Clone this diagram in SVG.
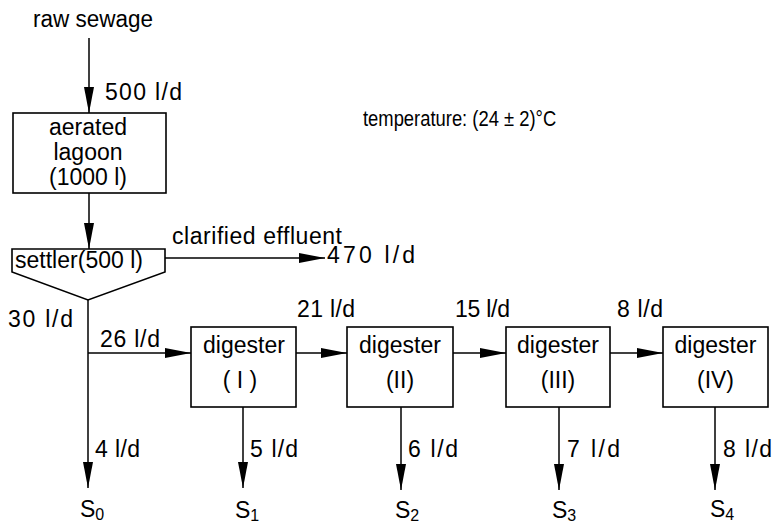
<svg xmlns="http://www.w3.org/2000/svg" width="774" height="524" viewBox="0 0 774 524">
<style>
text{font-family:"Liberation Sans","DejaVu Sans",sans-serif;font-size:23px;fill:#000}
.c{text-anchor:middle}
.t{font-size:22px}
.sub{font-size:16px}
.box{fill:none;stroke:#000;stroke-width:1.6}
.ln{fill:none;stroke:#000;stroke-width:1.5}
</style>
<defs>
<marker id="ah" markerUnits="userSpaceOnUse" markerWidth="28" markerHeight="12" refX="26" refY="5" orient="auto">
<path d="M0,0 L26,5 L0,10 Z" fill="#000"/>
</marker>
</defs>
<rect width="774" height="524" fill="#fff"/>
<g id="connectors">
<line class="ln" x1="89" y1="38" x2="89" y2="113" marker-end="url(#ah)"/>
<line class="ln" x1="89" y1="193" x2="89" y2="249" marker-end="url(#ah)"/>
<line class="ln" x1="165" y1="258" x2="325" y2="258" marker-end="url(#ah)"/>
<line class="ln" x1="88" y1="300" x2="88" y2="488" marker-end="url(#ah)"/>
<line class="ln" x1="88" y1="353" x2="191" y2="353" marker-end="url(#ah)"/>
<line class="ln" x1="296" y1="353" x2="347" y2="353" marker-end="url(#ah)"/>
<line class="ln" x1="453" y1="353" x2="506" y2="353" marker-end="url(#ah)"/>
<line class="ln" x1="610" y1="353" x2="663" y2="353" marker-end="url(#ah)"/>
<line class="ln" x1="243" y1="407" x2="243" y2="488" marker-end="url(#ah)"/>
<line class="ln" x1="401" y1="407" x2="401" y2="490" marker-end="url(#ah)"/>
<line class="ln" x1="559" y1="407" x2="559" y2="490" marker-end="url(#ah)"/>
<line class="ln" x1="715" y1="407" x2="715" y2="490" marker-end="url(#ah)"/>
</g>
<g id="labels">
<text x="33" y="27" textLength="120" lengthAdjust="spacingAndGlyphs">raw sewage</text>
<text x="105" y="100" textLength="77">500 l/d</text>
<text class="t" transform="translate(363,126) scale(0.836,1)">temperature: (24 ± 2)°C</text>
<text x="172" y="244" textLength="170">clarified effluent</text>
<text x="327" y="263" textLength="88">470 l/d</text>
<text x="8" y="327" textLength="65">30 l/d</text>
<text x="100" y="347" textLength="60">26 l/d</text>
<text x="297" y="317" textLength="58">21 l/d</text>
<text x="455" y="317" textLength="55">15 l/d</text>
<text x="617" y="317" textLength="46">8 l/d</text>
<text x="95" y="457" textLength="45">4 l/d</text>
<text x="250" y="457" textLength="48">5 l/d</text>
<text x="408" y="457" textLength="50">6 l/d</text>
<text x="567" y="457" textLength="53">7 l/d</text>
<text x="723" y="457" textLength="49">8 l/d</text>
</g>
<g id="lagoon">
<rect class="box" x="13" y="113" width="153" height="80"/>
<text class="c" x="88" y="135">aerated</text>
<text class="c" x="88" y="160">lagoon</text>
<text class="c" x="88" y="185">(1000 l)</text>
</g>
<g id="settler">
<path class="box" d="M12,249 L165,249 L165,272 L88,300 L12,272 Z"/>
<text x="15" y="268" textLength="128">settler(500 l)</text>
</g>
<g id="digester1">
<rect class="box" x="191" y="327" width="105" height="80"/>
<text class="c" x="244" y="353">digester</text>
<text class="c" x="240" y="388">( I )</text>
</g>
<g id="digester2">
<rect class="box" x="347" y="327" width="106" height="80"/>
<text class="c" x="400" y="353">digester</text>
<text class="c" x="400" y="388">(II)</text>
</g>
<g id="digester3">
<rect class="box" x="506" y="327" width="104" height="80"/>
<text class="c" x="558" y="353">digester</text>
<text class="c" x="558" y="388">(III)</text>
</g>
<g id="digester4">
<rect class="box" x="663" y="327" width="105" height="80"/>
<text class="c" x="715.5" y="353">digester</text>
<text class="c" x="715.5" y="388">(IV)</text>
</g>
<g id="s0"><text x="80" y="517">S<tspan class="sub" dy="3">0</tspan></text></g>
<g id="s1"><text x="235" y="518">S<tspan class="sub" dy="3">1</tspan></text></g>
<g id="s2"><text x="395" y="518">S<tspan class="sub" dy="3">2</tspan></text></g>
<g id="s3"><text x="552" y="518">S<tspan class="sub" dy="3">3</tspan></text></g>
<g id="s4"><text x="710" y="517">S<tspan class="sub" dy="3">4</tspan></text></g>
</svg>
